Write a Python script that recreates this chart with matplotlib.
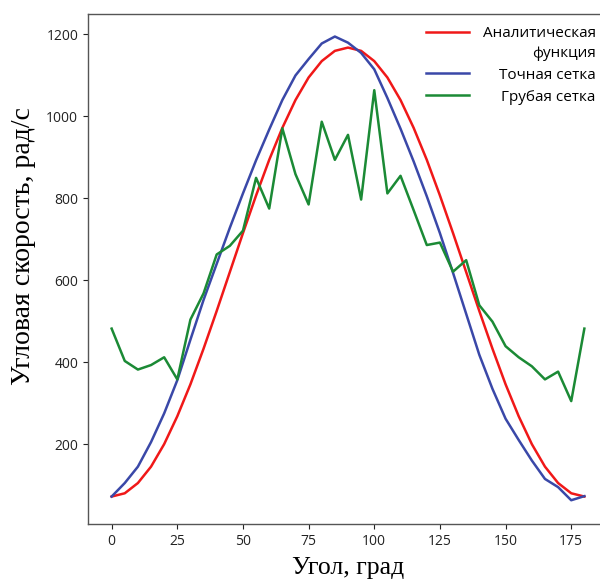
import matplotlib
matplotlib.use("Agg")
import matplotlib.pyplot as plt

# Angle grid, degrees
angle = list(range(0, 181, 5))

# Analytic angular velocity, rad/s
analytic = [72, 80, 105, 145, 200, 268, 346, 433, 525, 620, 715, 807, 894,
            972, 1040, 1095, 1135, 1160, 1168, 1160, 1135, 1095, 1040, 972,
            894, 807, 715, 620, 525, 433, 346, 268, 200, 145, 105, 80, 72]

# Fine mesh solution
fine = [72, 105, 145, 205, 275, 356, 455, 552, 640, 728, 812, 893, 968,
        1040, 1100, 1140, 1178, 1195, 1180, 1155, 1115, 1045, 970, 890,
        805, 715, 618, 518, 418, 335, 262, 210, 160, 115, 95, 63, 73]

# Coarse mesh solution
coarse = [482, 403, 382, 393, 412, 358, 504, 568, 663, 684, 721, 850, 775,
          971, 859, 785, 987, 894, 955, 797, 1064, 812, 855, 771, 686, 692,
          621, 649, 539, 499, 439, 412, 390, 358, 377, 305, 482]

labels = ["Аналитическая\nфункция", "Точная сетка", "Грубая сетка"]
xticks = [0, 25, 50, 75, 100, 125, 150, 175]
yticks = [200, 400, 600, 800, 1000, 1200]

fig = plt.figure(figsize=(6.0, 5.81), dpi=100)
ax = fig.add_axes([88 / 600, 1 - 524 / 581, 520 / 600, 510 / 581])

ax.plot(angle, analytic, color="#f01818", lw=1.8, label=labels[0])
ax.plot(angle, fine, color="#3a48a8", lw=1.8, label=labels[1])
ax.plot(angle, coarse, color="#1b8a35", lw=1.8, label=labels[2])

ax.set_xlim(-9, 189)
ax.set_ylim(5, 1250)
ax.set_xticks(xticks)
ax.set_yticks(yticks)
ax.tick_params(labelsize=10, colors="#222222", length=3.5, width=0.8)
for lbl in ax.get_xticklabels() + ax.get_yticklabels():
    lbl.set_family("Open Sans")
for sp in ax.spines.values():
    sp.set_color("#555555")
    sp.set_linewidth(1.0)

ax.set_xlabel("Угол, град", family="Liberation Serif", fontsize=18.5,
              labelpad=6)
ax.set_ylabel("Угловая скорость, рад/с", family="Liberation Serif",
              fontsize=20)
ax.yaxis.set_label_coords(-0.1, 0.545)

leg = ax.legend(loc="upper right", frameon=False,
                prop={"family": "Open Sans", "size": 11},
                handlelength=2.8, handletextpad=0.9, labelspacing=0.45,
                borderaxespad=0.4)
for t in leg.get_texts():
    t.set_multialignment("right")
    t.set_linespacing(1.42)

# Right-align legend labels while keeping handles in one column
fig.canvas.draw()
renderer = fig.canvas.get_renderer()
column = leg._legend_handle_box.get_children()[0]
rows = column.get_children()
row_w = max(r.get_bbox(renderer).width for r in rows)
for r in rows:
    r.width = row_w
    r.mode = "expand"
rows[0].align = "top"

fig.savefig("out.png", dpi=100)
